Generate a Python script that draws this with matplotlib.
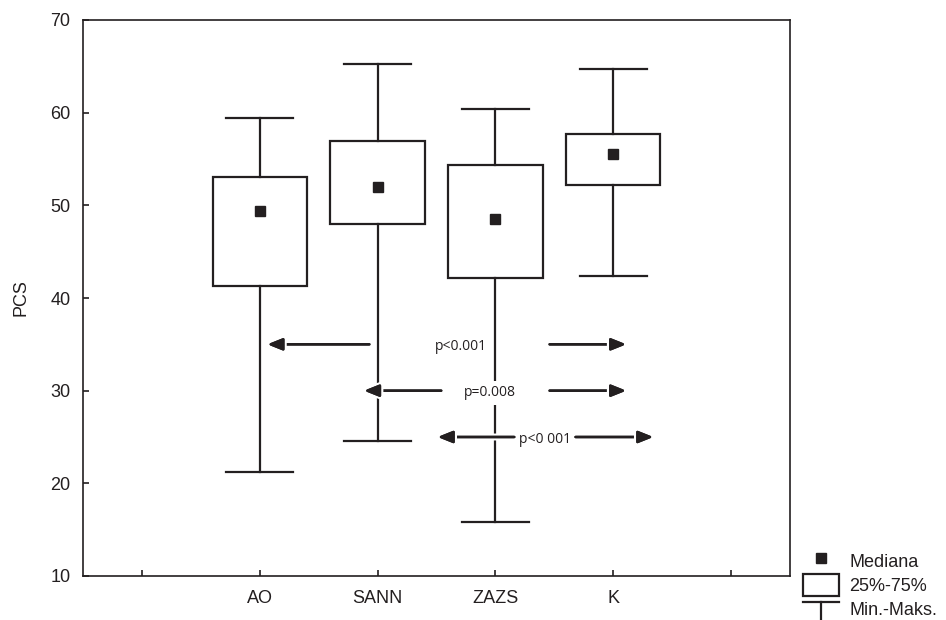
import numpy as np
import matplotlib
matplotlib.use('Agg')
import matplotlib.pyplot as plt
import matplotlib.patheffects as pe
from matplotlib.lines import Line2D
from matplotlib.patches import Patch
from matplotlib.legend_handler import HandlerBase

plt.rcParams['font.family'] = ['Liberation Sans', 'DejaVu Sans']

# dane
grupy = ['AO', 'SANN', 'ZAZS', 'K']
minimum = [21.2, 24.55, 15.8, 42.4]
q1 = [41.3, 48.0, 42.2, 52.2]
mediana = [49.4, 52.0, 48.55, 55.5]
q3 = [53.05, 56.9, 54.3, 57.7]
maksimum = [59.4, 65.25, 60.4, 64.75]

# porownania (poziom y, podpis, x podpisu, strzalka lewa, strzalka prawa)
p_y = [35, 30, 25]
p_tekst = ['p<0.001', 'p=0.008', 'p<0 001']
p_x = [2.71, 2.95, 3.42]
lewa = [(1.93, 1.065), (2.54, 1.885), (3.16, 2.51)]
prawa = [(3.46, 4.11), (3.46, 4.11), (3.68, 4.34)]

kolor = '#231f20'
pozycje = np.arange(1, len(grupy) + 1)

fig = plt.figure(figsize=(9.46, 6.2), dpi=100)
ax = fig.add_axes([83 / 946, 1 - 576 / 620, (790 - 83) / 946, (576 - 20) / 620])

stats = []
for i, g in enumerate(grupy):
    stats.append(dict(label=g, whislo=minimum[i], q1=q1[i], med=mediana[i],
                      q3=q3[i], whishi=maksimum[i], fliers=[]))

lw = 1.6
ax.bxp(stats, positions=pozycje, widths=0.8, capwidths=0.57, showfliers=False,
       patch_artist=True,
       boxprops=dict(facecolor='white', edgecolor=kolor, linewidth=lw),
       whiskerprops=dict(color=kolor, linewidth=lw),
       capprops=dict(color=kolor, linewidth=lw),
       medianprops=dict(linewidth=0))
ax.plot(pozycje, mediana, 's', color=kolor, markersize=7.5, zorder=4)

for y, t, tx, (l0, l1), (r0, r1) in zip(p_y, p_tekst, p_x, lewa, prawa):
    ax.text(tx, y - 0.25, t, ha='center', va='center', fontsize=10,
            family=['Open Sans', 'DejaVu Sans'], color=kolor, zorder=5,
            bbox=dict(facecolor='white', edgecolor='none', pad=3.5))
    for a, b in [(l0, l1), (r0, r1)]:
        ax.annotate('', xy=(b, y), xytext=(a, y), zorder=6,
                    arrowprops=dict(arrowstyle='-|>,head_length=0.45,head_width=0.18',
                                    color=kolor, lw=1.8, mutation_scale=20,
                                    shrinkA=0, shrinkB=0,
                                    path_effects=[pe.withStroke(linewidth=5, foreground='white'),
                                                  pe.Normal()]))

ax.set_xlim(-0.5, 5.5)
ax.set_ylim(10, 70)
ax.set_xticks(np.arange(0, 6))
ax.set_xticklabels([''] + grupy + [''])
ax.set_yticks(np.arange(10, 71, 10))
ax.tick_params(axis='both', direction='in', length=4, width=1.2, color=kolor,
               labelsize=13, labelcolor=kolor)
ax.tick_params(axis='x', pad=10)
ax.tick_params(axis='y', pad=9)
for s in ax.spines.values():
    s.set_linewidth(1.2)
    s.set_color(kolor)
ax.set_ylabel('PCS', fontsize=13, color=kolor, labelpad=15)


class HandlerWas(HandlerBase):
    # znak "T" dla min-maks
    def create_artists(self, legend, orig_handle, xdescent, ydescent, width,
                       height, fontsize, trans):
        top = height / 2 + 1.5
        h = Line2D([0, width], [top, top], color=kolor, lw=lw, transform=trans)
        v = Line2D([width / 2, width / 2], [top, height / 2 - 16], color=kolor,
                   lw=lw, transform=trans)
        return [h, v]


uchwyty = [Line2D([], [], marker='s', color=kolor, linestyle='none', markersize=7.5),
           Patch(facecolor='white', edgecolor=kolor, linewidth=lw),
           'was']
fig.legend(uchwyty, ['Mediana', '25%-75%', 'Min.-Maks.'],
           handler_map={str: HandlerWas()},
           loc='upper left', bbox_to_anchor=(803 / 946, 1 - 550 / 620),
           frameon=False, fontsize=13, handlelength=2.0, handleheight=1.45,
           labelspacing=0.15, handletextpad=0.55, borderpad=0, borderaxespad=0,
           labelcolor=kolor)

fig.savefig('out.png', dpi=100)
